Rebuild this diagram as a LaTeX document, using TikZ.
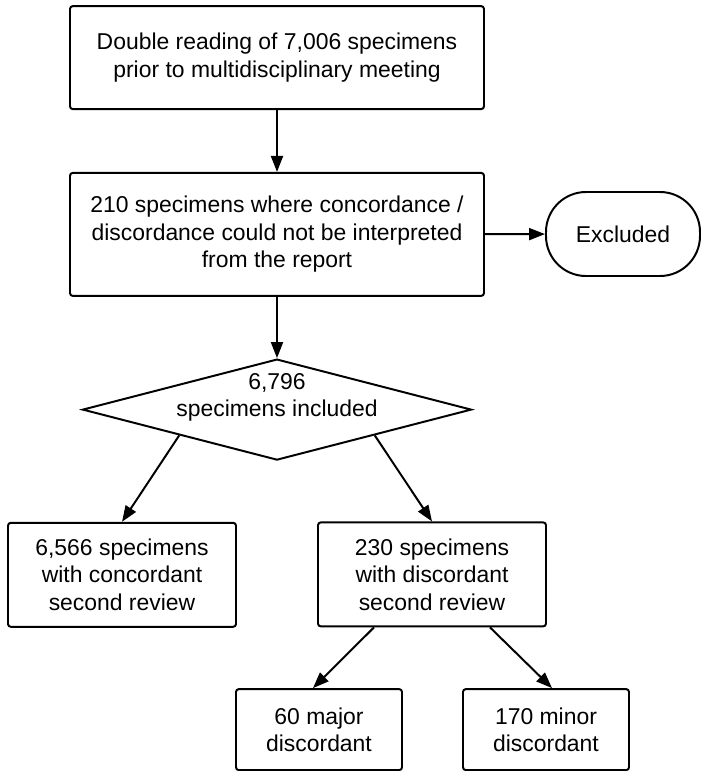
\documentclass[tikz,border=0pt]{standalone}
\usepackage{fontspec}
\setmainfont{Liberation Sans}
\usepackage{tikz}
\usetikzlibrary{shapes}
\usetikzlibrary{arrows.meta}

\tikzset{
  box/.style={draw,rectangle,rounded corners=2pt,line width=1.4pt,align=center,
    font=\fontsize{16.3pt}{19.5pt}\selectfont},
  flow/.style={line width=1.4pt,-{Triangle[length=0.4cm,width=0.3cm]}}
}

\begin{document}
\begin{tikzpicture}
\useasboundingbox (0,0) rectangle (17.575,-19.275);
\node[box,minimum width=10.35cm,minimum height=2.575cm] (read)at(6.925,-1.44){Double reading of 7,006 specimens\\prior to multidisciplinary meeting};
\node[box,minimum width=10.35cm,minimum height=3.075cm] (interp)at(6.925,-5.86){210 specimens where concordance /\\discordance could not be interpreted\\from the report};
\node[box,rounded corners=1cm,minimum width=3.85cm,minimum height=2.1cm] (excl)at(15.575,-5.85){Excluded};
\node[box,diamond,rounded corners=0pt,inner sep=0pt,aspect=3.85,text height=0.6cm,text depth=0.25cm,minimum width=9.725cm,minimum height=2.525cm] (incl)at(6.925,-10.24){6,796\\specimens included};
\node[box,minimum width=5.7cm,minimum height=2.6cm] (conc)at(3.05,-14.37){6,566 specimens\\with concordant\\second review};
\node[box,minimum width=5.7cm,minimum height=2.6cm] (disc)at(10.8,-14.36){230 specimens\\with discordant\\second review};
\node[box,minimum width=4.15cm,minimum height=2.025cm] (major)at(7.975,-18.24){60 major\\discordant};
\node[box,minimum width=4.15cm,minimum height=2.025cm] (minor)at(13.65,-18.24){170 minor\\discordant};

\draw[flow] (read) -- (interp);
\draw[flow] (interp) -- (excl);
\draw[flow] (interp) -- (incl);
\draw[flow] (incl.south west) -- (conc.north);
\draw[flow] (incl.south east) -- (disc.north);
\draw[flow] ([xshift=-1.45cm]disc.south) -- ([xshift=-0.15cm]major.north);
\draw[flow] ([xshift=1.45cm]disc.south) -- ([xshift=0.15cm]minor.north);
\end{tikzpicture}
\end{document}
